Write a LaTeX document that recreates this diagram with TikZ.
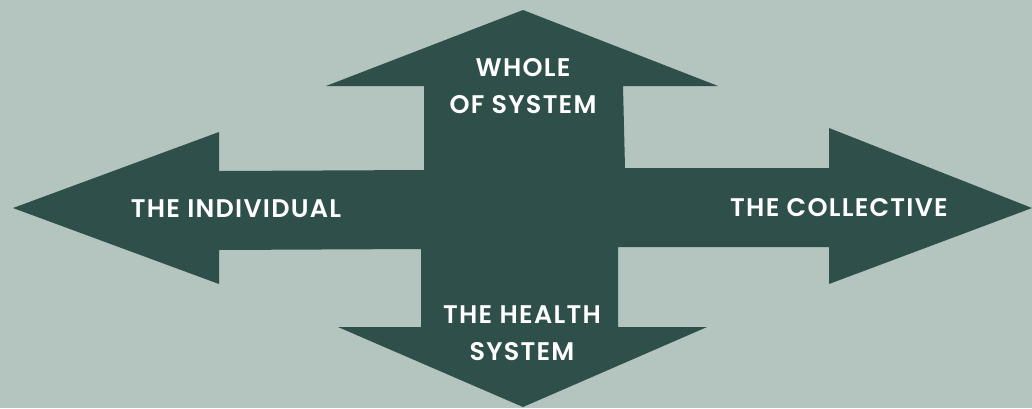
\documentclass[tikz,border=0pt]{standalone}
\usepackage{fontspec}
\setmainfont{Poppins}
\newfontfamily\labelfont{Poppins SemiBold}[LetterSpace=5]
\definecolor{bgsage}{HTML}{B4C4BE}
\definecolor{darkpine}{HTML}{2E4F4A}
\begin{document}
\begin{tikzpicture}[x=1pt,y=-1pt,
  arrowlabel/.style={text=white,font=\labelfont\fontsize{25.5}{37}\selectfont,align=center,inner sep=0pt}]
\fill[bgsage] (0,0) rectangle (1032,408);
\useasboundingbox (0,0) rectangle (1032,408);
% four-way arrow drawn as one outline
\fill[darkpine] (13,208) -- (219,132) -- (219,171) -- (424,170) -- (424,86) -- (326,86)
  -- (523,10) -- (718,86) -- (623,86) -- (625,168) -- (829,168) -- (829,128)
  -- (1032,208) -- (829,284) -- (829,247) -- (618,247) -- (618,327) -- (707,327)
  -- (523,407) -- (338,327) -- (421,327) -- (421,249) -- (219,250) -- (219,284) -- cycle;
\node[arrowlabel] (indiv) at (236,209) {THE INDIVIDUAL};
\node[arrowlabel] (coll) at (839,208) {THE COLLECTIVE};
\node[arrowlabel] (whole) at (523,86) {WHOLE\\OF SYSTEM};
\node[arrowlabel] (health) at (522,333) {THE HEALTH\\SYSTEM};
\end{tikzpicture}
\end{document}
